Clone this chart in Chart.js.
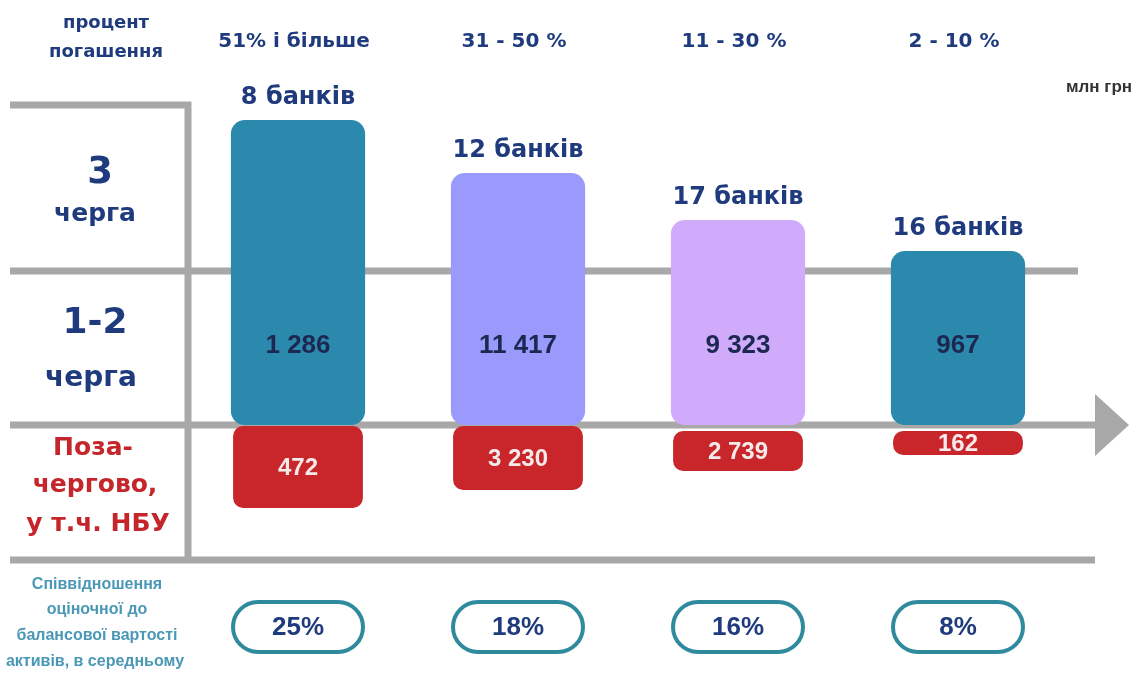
<!DOCTYPE html>
<html lang="uk">
<head>
<meta charset="utf-8">
<title>Процент погашення</title>
<script src="https://cdn.jsdelivr.net/npm/chart.js@4/dist/chart.umd.min.js"></script>
<style>
    html, body { margin: 0; padding: 0; background: #ffffff; }
    #wrap { width: 1137px; height: 675px; position: relative; }
</style>
</head>
<body>
<div id="wrap"><canvas id="chart"></canvas></div>
<script>
// Categories and values
const categories = ['51% і більше', '31 - 50 %', '11 - 30 %', '2 - 10 %'];
const bankCounts = ['8 банків', '12 банків', '17 банків', '16 банків'];
const queueValues = [1286, 11417, 9323, 967];      // 1-2 черга, млн грн
const priorityValues = [472, 3230, 2739, 162];      // позачергово, млн грн
const ratioLabels = ['25%', '18%', '16%', '8%'];

// Visual bar extents (units relative to the arrow axis)
const upperTop = [305, 252, 205, 174];
const lowerTop = [0, 0, -5, -5];
const lowerBottom = [-83, -65, -46, -30];

// Row boundaries of the table grid (same units)
const rowLines = [320, 154, 0, -135];
const ratioRow = -202;

const upperColors = ['#2b89ad', '#9a9afc', '#d1abfb', '#2b89ad'];
const lowerColor = '#c8262b';
const gridGray = '#a8a8a8';
const navy = '#1f3b7e';
const WIDE = '"DejaVu Sans", sans-serif';
const ARIAL = '"Liberation Sans", Arial, sans-serif';

function fmt(n) {
    return String(n).replace(/\B(?=(\d{3})+(?!\d))/g, ' ');
}

const tablePlugin = {
    id: 'tableGrid',
    beforeDatasetsDraw(chart) {
        const ctx = chart.ctx;
        const y = chart.scales.y;
        const left = 10;
        const vx = chart.chartArea.left;
        ctx.save();
        ctx.strokeStyle = gridGray;
        ctx.lineWidth = 7;
        // top short line
        ctx.beginPath();
        ctx.moveTo(left, y.getPixelForValue(rowLines[0]));
        ctx.lineTo(vx + 3, y.getPixelForValue(rowLines[0]));
        ctx.stroke();
        // 3 черга / 1-2 черга
        ctx.beginPath();
        ctx.moveTo(left, y.getPixelForValue(rowLines[1]));
        ctx.lineTo(1078, y.getPixelForValue(rowLines[1]));
        ctx.stroke();
        // arrow axis
        const ay = y.getPixelForValue(rowLines[2]);
        ctx.beginPath();
        ctx.moveTo(left, ay);
        ctx.lineTo(1098, ay);
        ctx.stroke();
        ctx.fillStyle = gridGray;
        ctx.beginPath();
        ctx.moveTo(1095, ay - 31);
        ctx.lineTo(1129, ay);
        ctx.lineTo(1095, ay + 31);
        ctx.closePath();
        ctx.fill();
        // bottom line
        ctx.beginPath();
        ctx.moveTo(left, y.getPixelForValue(rowLines[3]));
        ctx.lineTo(1095, y.getPixelForValue(rowLines[3]));
        ctx.stroke();
        // vertical divider
        ctx.beginPath();
        ctx.moveTo(vx, y.getPixelForValue(rowLines[0]) - 3);
        ctx.lineTo(vx, y.getPixelForValue(rowLines[3]) + 3);
        ctx.stroke();
        ctx.restore();
    },
    afterDatasetsDraw(chart) {
        const ctx = chart.ctx;
        const x = chart.scales.x;
        const y = chart.scales.y;
        const upper = chart.getDatasetMeta(0).data;
        const lower = chart.getDatasetMeta(1).data;
        ctx.save();
        ctx.textAlign = 'center';
        ctx.textBaseline = 'alphabetic';

        // left row headers
        ctx.fillStyle = navy;
        ctx.font = 'bold 18px ' + WIDE;
        ctx.fillText('процент', 106, 28);
        ctx.fillText('погашення', 106, 57);
        ctx.font = 'bold 37px ' + WIDE;
        ctx.fillText('3', 100, 183);
        ctx.font = 'bold 36px ' + WIDE;
        ctx.fillText('1-2', 95, 333);
        ctx.font = 'bold 25px ' + WIDE;
        ctx.fillText('черга', 95, 221);
        ctx.font = 'bold 28px ' + WIDE;
        ctx.fillText('черга', 91, 386);
        ctx.fillStyle = '#c4262b';
        ctx.font = 'bold 25px ' + WIDE;
        ctx.fillText('Поза-', 93, 455);
        ctx.fillText('чергово,', 95, 492);
        ctx.fillText('у т.ч. НБУ', 98, 531);
        ctx.fillStyle = '#4a98b6';
        ctx.font = 'bold 16px ' + ARIAL;
        ctx.fillText('Співвідношення', 97, 589);
        ctx.fillText('оціночної до', 97, 614);
        ctx.fillText('балансової вартості', 97, 640);
        ctx.fillText('активів, в середньому', 95, 666);

        // unit
        ctx.fillStyle = '#333333';
        ctx.font = 'bold 17px ' + ARIAL;
        ctx.fillText('млн грн', 1099, 92);

        categories.forEach((cat, i) => {
            const cx = x.getPixelForValue(i);
            // column header
            ctx.fillStyle = navy;
            ctx.font = 'bold 20px ' + WIDE;
            ctx.fillText(cat, cx - 4, 47);
            // bank count above bar
            ctx.font = 'bold 24px ' + WIDE;
            ctx.fillText(bankCounts[i], upper[i].x, upper[i].y - 16);
            // 1-2 черга value
            ctx.fillStyle = '#1c2850';
            ctx.font = 'bold 26px ' + ARIAL;
            ctx.fillText(fmt(queueValues[i]), upper[i].x, y.getPixelForValue((rowLines[1] + rowLines[2]) / 2) + 5);
            // позачергово value
            ctx.fillStyle = '#f6e9e9';
            ctx.font = 'bold 24px ' + ARIAL;
            ctx.textBaseline = 'middle';
            ctx.fillText(fmt(priorityValues[i]), lower[i].x, (lower[i].y + lower[i].base) / 2 + 1);

            // ratio pill
            const py = y.getPixelForValue(ratioRow);
            const w = 130, h = 50;
            ctx.beginPath();
            ctx.roundRect(cx - w / 2, py - h / 2, w, h, h / 2);
            ctx.fillStyle = '#ffffff';
            ctx.fill();
            ctx.lineWidth = 4;
            ctx.strokeStyle = '#2f8a9e';
            ctx.stroke();
            ctx.fillStyle = navy;
            ctx.font = 'bold 26px ' + ARIAL;
            ctx.fillText(ratioLabels[i], cx, py + 1);
            ctx.textBaseline = 'alphabetic';
        });
        ctx.restore();
    }
};

new Chart(document.getElementById('chart'), {
    type: 'bar',
    data: {
        labels: categories,
        datasets: [
            {
                label: '1-2 черга',
                data: upperTop.map(t => [rowLines[2], t]),
                backgroundColor: upperColors,
                borderRadius: 14,
                borderSkipped: false,
                grouped: false,
                barPercentage: 0.61,
                categoryPercentage: 1
            },
            {
                label: 'Позачергово',
                data: lowerBottom.map((b, i) => [b, lowerTop[i] - 1]),
                backgroundColor: lowerColor,
                borderRadius: 10,
                borderSkipped: false,
                grouped: false,
                barPercentage: 0.59,
                categoryPercentage: 1
            }
        ]
    },
    options: {
        responsive: true,
        maintainAspectRatio: false,
        animation: false,
        layout: { padding: { left: 188, right: 69, top: 0, bottom: 0 } },
        plugins: {
            legend: { display: false },
            tooltip: { enabled: false }
        },
        scales: {
            x: { display: false, offset: true },
            y: { display: false, min: -250, max: 425 }
        }
    },
    plugins: [tablePlugin]
});
</script>
</body>
</html>
